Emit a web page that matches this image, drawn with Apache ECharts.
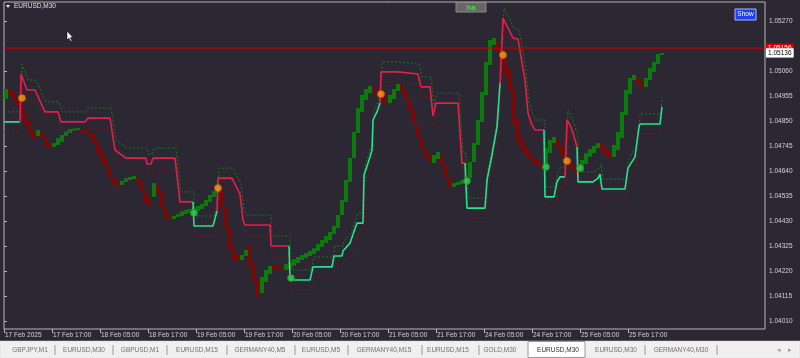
<!DOCTYPE html>
<html><head><meta charset="utf-8">
<script src="https://cdn.jsdelivr.net/npm/echarts@6/dist/echarts.min.js"></script>
<style>html,body{margin:0;padding:0;background:#2b2733;overflow:hidden}#c{width:800px;height:358px}</style>
</head><body><div id="c"></div><script>
// ---- data (hourly bars, x = hours since first label) ----
const xLabels = ['17 Feb 2025','17 Feb 17:00','18 Feb 05:00','18 Feb 17:00','19 Feb 05:00','19 Feb 17:00','20 Feb 05:00','20 Feb 17:00','21 Feb 05:00','21 Feb 17:00','24 Feb 05:00','24 Feb 17:00','25 Feb 05:00','25 Feb 17:00'];
const yTicks = [1.04010,1.04115,1.04220,1.04325,1.04430,1.04535,1.04640,1.04745,1.04850,1.04955,1.05060,1.05270];
const haOpen = [1.04942,1.04984,1.04972,1.04951,1.04921,1.04883,1.04846,1.04808,1.04787,1.04804,
1.04783,1.04757,1.04741,1.04749,1.04762,1.04787,1.04799,1.04810,1.04812,1.04816,
1.04812,1.04808,1.04799,1.04762,1.04728,1.04694,1.04657,1.04615,1.04589,1.04581,
1.04594,1.04602,1.04606,1.04615,1.04594,1.04552,1.04518,1.04531,1.04581,1.04552,
1.04489,1.04451,1.04438,1.04447,1.04451,1.04459,1.04463,1.04468,1.04472,1.04480,
1.04493,1.04510,1.04531,1.04547,1.04552,1.04484,1.04400,1.04316,1.04283,1.04266,
1.04283,1.04330,1.04249,1.04182,1.04127,1.04174,1.04207,1.04241,1.04241,1.04237,
1.04224,1.04228,1.04241,1.04253,1.04266,1.04274,1.04283,1.04291,1.04304,1.04321,
1.04337,1.04350,1.04375,1.04400,1.04455,1.04510,1.04594,1.04694,1.04799,1.04888,
1.04938,1.04967,1.04993,1.04984,1.04972,1.04951,1.04925,1.04942,1.04976,1.05001,
1.04980,1.04938,1.04896,1.04833,1.04778,1.04728,1.04707,1.04673,1.04690,1.04707,
1.04665,1.04610,1.04573,1.04581,1.04585,1.04594,1.04610,1.04678,1.04749,1.04846,
1.04959,1.05085,1.05169,1.05182,1.05156,1.05114,1.05064,1.04988,1.04854,1.04778,
1.04745,1.04720,1.04699,1.04686,1.04673,1.04657,1.04715,1.04757,1.04770,1.04749,
1.04720,1.04686,1.04665,1.04648,1.04636,1.04669,1.04699,1.04715,1.04736,1.04753,
1.04736,1.04720,1.04699,1.04728,1.04778,1.04875,1.04963,1.05022,1.05035,1.05014,
1.04993,1.05022,1.05056,1.05089,1.05127];
const haClose = [1.04984,1.04959,1.04942,1.04917,1.04875,1.04833,1.04799,1.04774,1.04812,1.04778,
1.04749,1.04736,1.04757,1.04778,1.04791,1.04808,1.04816,1.04818,1.04820,1.04804,
1.04799,1.04791,1.04757,1.04715,1.04678,1.04652,1.04610,1.04581,1.04573,1.04598,
1.04610,1.04615,1.04619,1.04589,1.04552,1.04505,1.04497,1.04589,1.04547,1.04489,
1.04447,1.04434,1.04451,1.04459,1.04472,1.04476,1.04480,1.04484,1.04493,1.04501,
1.04518,1.04539,1.04556,1.04573,1.04484,1.04392,1.04308,1.04266,1.04258,1.04287,
1.04308,1.04241,1.04174,1.04111,1.04195,1.04224,1.04241,1.04224,1.04228,1.04224,
1.04249,1.04258,1.04270,1.04279,1.04287,1.04295,1.04304,1.04316,1.04333,1.04350,
1.04367,1.04384,1.04409,1.04455,1.04518,1.04602,1.04694,1.04804,1.04904,1.04959,
1.04984,1.04997,1.04972,1.04959,1.04942,1.04921,1.04959,1.04984,1.05005,1.04972,
1.04938,1.04888,1.04837,1.04778,1.04728,1.04694,1.04678,1.04707,1.04720,1.04665,
1.04610,1.04568,1.04589,1.04594,1.04602,1.04610,1.04678,1.04757,1.04854,1.04972,
1.05098,1.05190,1.05198,1.05140,1.05098,1.05043,1.04980,1.04833,1.04762,1.04728,
1.04707,1.04686,1.04673,1.04665,1.04657,1.04736,1.04770,1.04783,1.04741,1.04707,
1.04678,1.04652,1.04636,1.04623,1.04686,1.04715,1.04732,1.04745,1.04757,1.04724,
1.04707,1.04694,1.04749,1.04804,1.04888,1.04980,1.05030,1.05043,1.05005,1.04993,
1.05030,1.05072,1.05098,1.05131,1.05136];
// trend line vertices [hour, price]; trend flips at these vertex indices, first run is up
const stLine = [[0,1.04846],[4,1.04846],[4.25,1.05047],[5.75,1.04980],[7.75,1.04980],[10.25,1.04888],[13.5,1.04888],[14.25,1.04846],[20.25,1.04846],[21,1.04862],
[26.5,1.04862],[27.75,1.04728],[30.5,1.04694],[35.5,1.04694],[35.75,1.04669],[36.75,1.04669],[37.25,1.04694],[42.75,1.04694],[44,1.04510],[47.25,1.04510],
[47.5,1.04409],[52.25,1.04409],[53.25,1.04472],[53.5,1.04610],[57,1.04610],[59,1.04543],[59.75,1.04434],[60.25,1.04413],[66.5,1.04413],[66.75,1.04325],
[71.25,1.04325],[71.5,1.04182],[76.5,1.04182],[77.25,1.04237],[82,1.04237],[82.5,1.04283],[84.5,1.04283],[84.75,1.04304],[86.5,1.04337],[88.25,1.04421],
[89.75,1.04421],[90,1.04623],[91.5,1.04699],[92,1.04728],[92.25,1.04854],[93.25,1.04888],[94,1.04925],[94.25,1.05056],[98.5,1.05056],[103.5,1.05047],
[104.25,1.04993],[106.5,1.04993],[107.25,1.04871],[108,1.04925],[113.5,1.04925],[114.5,1.04673],[115.25,1.04673],[115.75,1.04484],[120.25,1.04484],[120.75,1.04602],
[122,1.04707],[123.25,1.04825],[124,1.05009],[124.75,1.05282],[126.5,1.05224],[127.25,1.05198],[128.5,1.05194],[130.25,1.05022],[131,1.04883],[132,1.04833],
[132.75,1.04812],[135,1.04812],[135.25,1.04531],[137.5,1.04531],[138.25,1.04594],[139,1.04615],[140.25,1.04615],[140.75,1.04854],[141.5,1.04833],[142.25,1.04799],
[143.25,1.04741],[143.5,1.04594],[147.25,1.04594],[148.5,1.04610],[149,1.04627],[149.5,1.04564],[155.25,1.04564],[156,1.04652],[157.75,1.04699],[158.75,1.04825],
[159,1.04837],[164,1.04837],[164.5,1.04909]];
const stFlips = [1,19,22,30,46,56,62,71,76,80];
const upperBand = [[0,1.04888],[4.25,1.04888],[4.5,1.05089],[6,1.05022],[8,1.05022],[10.5,1.04930],[13.75,1.04930],[14.5,1.04888],[20.5,1.04888],[21.25,1.04904],
[26.75,1.04904],[28,1.04770],[30.75,1.04736],[35.75,1.04736],[36,1.04711],[37,1.04711],[37.5,1.04736],[43,1.04736],[44.25,1.04552],[47.5,1.04552],
[47.75,1.04451],[52.5,1.04451],[53.5,1.04514],[53.75,1.04652],[57.25,1.04652],[59.25,1.04585],[60,1.04476],[60.5,1.04455],[66.75,1.04455],[67,1.04367],
[71.5,1.04367],[71.75,1.04224],[76.75,1.04224],[77.5,1.04279],[82.25,1.04279],[82.75,1.04325],[84.75,1.04325],[85,1.04346],[86.75,1.04379],[88.5,1.04463],
[90,1.04463],[90.25,1.04665],[91.75,1.04741],[92.25,1.04770],[92.5,1.04896],[93.5,1.04930],[94.25,1.04967],[94.5,1.05098],[98.75,1.05098],[103.75,1.05089],
[104.5,1.05035],[106.75,1.05035],[107.5,1.04913],[108.25,1.04967],[113.75,1.04967],[114.75,1.04715],[115.5,1.04715],[116,1.04526],[120.5,1.04526],[121,1.04644],
[122.25,1.04749],[123.5,1.04867],[124.25,1.05051],[125,1.05324],[126.75,1.05266],[127.5,1.05240],[128.75,1.05236],[130.5,1.05064],[131.25,1.04925],[132.25,1.04875],
[133,1.04854],[135.25,1.04854],[135.5,1.04573],[137.75,1.04573],[138.5,1.04636],[139.25,1.04657],[140.5,1.04657],[141,1.04896],[141.75,1.04875],[142.5,1.04841],
[143.5,1.04783],[143.75,1.04636],[147.5,1.04636],[148.75,1.04652],[149.25,1.04669],[149.75,1.04606],[155.5,1.04606],[156.25,1.04694],[158,1.04741],[159,1.04867],
[159.25,1.04879],[164.25,1.04879],[164.5,1.04951]];
const lowerBand = [[0,1.04804],[4.25,1.04804],[4.5,1.05005],[6,1.04938],[8,1.04938],[10.5,1.04846],[13.75,1.04846],[14.5,1.04804],[20.5,1.04804],[21.25,1.04820],
[26.75,1.04820],[28,1.04686],[30.75,1.04652],[35.75,1.04652],[36,1.04627],[37,1.04627],[37.5,1.04652],[43,1.04652],[44.25,1.04468],[47.5,1.04468],
[47.75,1.04367],[52.5,1.04367],[53.5,1.04430],[53.75,1.04568],[57.25,1.04568],[59.25,1.04501],[60,1.04392],[60.5,1.04371],[66.75,1.04371],[67,1.04283],
[71.5,1.04283],[71.75,1.04140],[76.75,1.04140],[77.5,1.04195],[82.25,1.04195],[82.75,1.04241],[84.75,1.04241],[85,1.04262],[86.75,1.04295],[88.5,1.04379],
[90,1.04379],[90.25,1.04581],[91.75,1.04657],[92.25,1.04686],[92.5,1.04812],[93.5,1.04846],[94.25,1.04883],[94.5,1.05014],[98.75,1.05014],[103.75,1.05005],
[104.5,1.04951],[106.75,1.04951],[107.5,1.04829],[108.25,1.04883],[113.75,1.04883],[114.75,1.04631],[115.5,1.04631],[116,1.04442],[120.5,1.04442],[121,1.04560],
[122.25,1.04665],[123.5,1.04783],[124.25,1.04967],[125,1.05240],[126.75,1.05182],[127.5,1.05156],[128.75,1.05152],[130.5,1.04980],[131.25,1.04841],[132.25,1.04791],
[133,1.04770],[135.25,1.04770],[135.5,1.04489],[137.75,1.04489],[138.5,1.04552],[139.25,1.04573],[140.5,1.04573],[141,1.04812],[141.75,1.04791],[142.5,1.04757],
[143.5,1.04699],[143.75,1.04552],[147.5,1.04552],[148.75,1.04568],[149.25,1.04585],[149.75,1.04522],[155.5,1.04522],[156.25,1.04610],[158,1.04657],[159,1.04783],
[159.25,1.04795],[164.25,1.04795],[164.5,1.04867]];
const sellSignals = [[4.5,1.04946],[53.5,1.04568],[94.25,1.04963],[124.75,1.05127],[140.75,1.04682]];
const buySignals = [[47.5,1.04463],[71.75,1.04190],[115.75,1.04598],[135.5,1.04657],[144,1.04652]];
const askLevel = 1.05156;
const bidLevel = 1.05136;
const symbolTitle = 'EURUSD,M30';
const tabNames = ['GBPJPY,M1','EURUSD,M30','GBPUSD,M1','EURUSD,M15','GERMANY40,M5','EURUSD,M5','GERMANY40,M15','EURUSD,M15','GOLD,M30','EURUSD,M30','EURUSD,M30','GERMANY40,M30'];
const activeTab = 9;

// ---- layout ----
const X_MAX = 190.25;
const tabCenters = [30,84,140,197,260,321,384,448,500,558,616,681];
const tabSeps = [55,113,167,227,295,348,422,479,645,717];
const FONT = 'Liberation Sans';
const UP = '#0c7a0c', DOWN = '#780a0a';
const xTickPos = xLabels.map((_, i) => i * 12);

const chart = echarts.init(document.getElementById('c'), null, {renderer: 'canvas'});

const series = [];
series.push({
  type: 'custom', z: 2, animation: false, silent: true,
  data: haOpen.map((o, i) => [i + 0.5, o, haClose[i]]),
  encode: {x: 0, y: [1, 2]},
  renderItem: function (params, api) {
    const h = api.value(0), o = api.value(1), c = api.value(2);
    const p1 = api.coord([h, o]), p2 = api.coord([h, c]);
    const w = api.size([1, 0])[0];
    const top = Math.min(p1[1], p2[1]);
    const ht = Math.max(Math.abs(p1[1] - p2[1]), 2);
    return {type: 'rect', shape: {x: p1[0] - w / 2, y: top, width: w, height: ht},
      style: {fill: c >= o ? UP : DOWN}};
  }
});
series.push({
  type: 'line', z: 3, data: upperBand, showSymbol: false, animation: false, silent: true,
  lineStyle: {color: '#1c7a1c', width: 1, type: [2, 2]}
});
series.push({
  type: 'line', z: 3, data: lowerBand, showSymbol: false, animation: false, silent: true,
  lineStyle: {color: '#7a1622', width: 1, type: [2, 2]}
});
const cuts = [0].concat(stFlips, [stLine.length - 1]);
for (let i = 0; i < cuts.length - 1; i++) {
  const isUp = i % 2 === 0;
  series.push({
    type: 'line', z: 4, showSymbol: false, animation: false, silent: true,
    data: stLine.slice(cuts[i], cuts[i + 1] + 1),
    lineStyle: {color: isUp ? '#22e38f' : '#e3204c', width: 1.6}
  });
}
series.push({type: 'scatter', z: 6, data: sellSignals, symbolSize: 7, animation: false, silent: true,
  itemStyle: {color: '#f5a214', borderColor: '#c85a0a', borderWidth: 1}});
series.push({type: 'scatter', z: 6, data: buySignals, symbolSize: 7, animation: false, silent: true,
  itemStyle: {color: '#33c24a', borderColor: '#1d8a32', borderWidth: 1, opacity: 0.9}});
// price level lines with their right-hand labels
series.push({type: 'line', z: 7, data: [[0, askLevel], [X_MAX, askLevel]], showSymbol: false, animation: false, silent: true, clip: false,
  lineStyle: {color: '#c80000', width: 1},
  endLabel: {show: true, distance: 1, formatter: askLevel.toFixed(5), color: '#ffffff', backgroundColor: '#e00000',
    padding: [1, 2], fontSize: 6.5, fontFamily: FONT}});
series.push({type: 'line', z: 8, data: [[0, bidLevel], [X_MAX, bidLevel]], showSymbol: false, animation: false, silent: true, clip: false,
  lineStyle: {opacity: 0},
  endLabel: {show: true, distance: 1, formatter: bidLevel.toFixed(5), color: '#000000', backgroundColor: '#ffffff',
    borderColor: '#808080', borderWidth: 0.5, padding: [1, 2], fontSize: 6.5, fontFamily: FONT}});

// decorations
const graphic = [];
graphic.push({type: 'polygon', shape: {points: [[6, 5], [10, 5], [8, 8]]}, style: {fill: '#e8e8e8'}});
graphic.push({type: 'text', left: 14, top: 3, style: {text: symbolTitle, fill: '#e0e0e0', font: '6.5px ' + FONT}});
graphic.push({type: 'rect', shape: {x: 456, y: 2.5, width: 30, height: 9.5}, style: {fill: '#676767', stroke: '#8c8c8c', lineWidth: 1}});
graphic.push({type: 'text', x: 471, y: 7.5, style: {text: 'ha', fill: '#35e835', font: 'bold 8px ' + FONT, align: 'center', verticalAlign: 'middle'}});
graphic.push({type: 'rect', shape: {x: 735, y: 9, width: 21, height: 11}, style: {fill: '#1f3ef0', stroke: '#b0b8ff', lineWidth: 1}});
graphic.push({type: 'text', x: 745.5, y: 14.5, style: {text: 'Show', fill: '#ffffff', font: '6.5px ' + FONT, align: 'center', verticalAlign: 'middle'}});
graphic.push({type: 'polygon', shape: {points: [[67, 31], [67, 40], [69, 38.2], [70.8, 41.5], [72, 41], [70.3, 37.6], [73, 37.6]]},
  style: {fill: '#ffffff', stroke: '#000000', lineWidth: 0.5}});
graphic.push({type: 'rect', shape: {x: 0, y: 341, width: 800, height: 17}, style: {fill: '#f0f0f0', stroke: '#d8d8d8', lineWidth: 0.5}});
graphic.push({type: 'rect', shape: {x: 528, y: 341.5, width: 57, height: 16}, style: {fill: '#ffffff', stroke: '#9a9a9a', lineWidth: 1}});
tabSeps.forEach(x => graphic.push({type: 'line', shape: {x1: x, y1: 345, x2: x, y2: 355}, style: {stroke: '#9a9a9a', lineWidth: 1}}));
tabNames.forEach((t, i) => graphic.push({type: 'text', x: tabCenters[i], y: 350,
  style: {text: t, fill: i === activeTab ? '#303030' : '#707070', font: '6.5px ' + FONT, align: 'center', verticalAlign: 'middle'}}));
graphic.push({type: 'text', x: 779, y: 350, style: {text: '◂', fill: '#9a9a9a', font: '7px ' + FONT, align: 'center', verticalAlign: 'middle'}});
graphic.push({type: 'text', x: 790, y: 350, style: {text: '▸', fill: '#9a9a9a', font: '7px ' + FONT, align: 'center', verticalAlign: 'middle'}});

chart.setOption({
  backgroundColor: '#2b2733',
  animation: false,
  grid: {left: 4, right: 35, top: 2, bottom: 29, show: true, borderColor: '#b8b8b8', borderWidth: 1, backgroundColor: 'transparent'},
  xAxis: {type: 'value', min: 0, max: X_MAX, splitLine: {show: false}, axisLine: {show: false},
    axisTick: {show: true, customValues: xTickPos, length: 4, lineStyle: {color: '#b8b8b8'}},
    axisLabel: {show: true, customValues: xTickPos, formatter: v => xLabels[Math.round(v / 12)] || '',
      color: '#d4d4d4', fontSize: 6.5, fontFamily: FONT, align: 'left', margin: 3, padding: [0, 0, 0, 1]}},
  yAxis: {type: 'value', position: 'right', min: 1.039762, max: 1.053496, splitLine: {show: false}, axisLine: {show: false},
    axisTick: {show: true, customValues: yTicks, length: 3, lineStyle: {color: '#b8b8b8'}},
    axisLabel: {show: true, customValues: yTicks, formatter: v => v.toFixed(5), color: '#d4d4d4', fontSize: 6.5, fontFamily: FONT, margin: 4, align: 'left'}},
  series: series,
  graphic: graphic
});
</script></body></html>
